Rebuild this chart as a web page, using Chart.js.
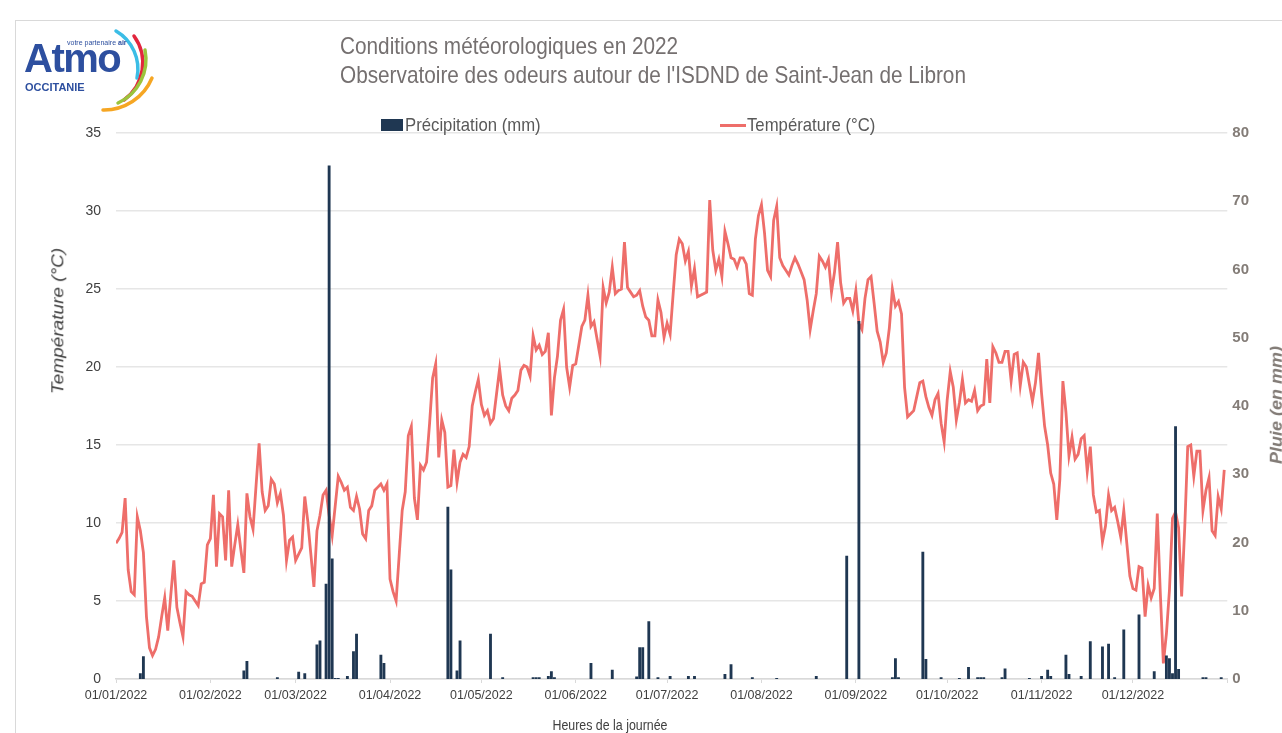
<!DOCTYPE html>
<html>
<head>
<meta charset="utf-8">
<script src="https://cdn.jsdelivr.net/npm/chart.js@4.4.1/dist/chart.umd.min.js"></script>
<style>
  html, body { margin: 0; padding: 0; background: #fff; overflow: hidden; }
  #wrap { position: relative; width: 1282px; height: 733px; overflow: hidden; font-family: 'Liberation Sans', Arial, sans-serif; }
  #frame { position: absolute; left: 15px; top: 20px; width: 1400px; height: 800px; border-left: 1px solid #d9d9d9; border-top: 1px solid #d9d9d9; }
  #c { position: absolute; left: 0; top: 0; }
  .title { position: absolute; left: 340px; color: #757070; font-size: 24px; white-space: nowrap; line-height: 29px; transform: scaleX(0.865); transform-origin: 0 0; }
  .leg { position: absolute; top: 115px; color: #595959; font-size: 19px; white-space: nowrap; line-height: 20px; transform: scaleX(0.88); transform-origin: 0 0; }
  .sw { position: absolute; }
  .axt { position: absolute; white-space: nowrap; }
  #logo .atmo { position: absolute; left: 24px; top: 38px; font-weight: bold; font-size: 40px; line-height: 40px; color: #2d4f9f; letter-spacing: -1.5px; }
  #logo .tag { position: absolute; left: 67px; top: 39px; font-size: 7px; line-height: 8px; color: #2d4f9f; }
  #logo .occ { position: absolute; left: 25px; top: 81px; font-weight: bold; font-size: 11px; line-height: 12px; color: #2d4f9f; }
</style>
</head>
<body>
<div id="wrap">
  <div id="frame"></div>
  <canvas id="c" width="1282" height="733"></canvas>

  <div id="logo">
    <svg width="200" height="130" style="position:absolute;left:0;top:0" fill="none" stroke-linecap="round">
      <path d="M116,31 A44,44 0 0 1 137,78" stroke="#3bbde6" stroke-width="3.5"/>
      <path d="M134,36 A46,46 0 0 1 124,100" stroke="#e2253d" stroke-width="3.5"/>
      <path d="M145,50 A48,48 0 0 1 118,103" stroke="#9cc43c" stroke-width="3.5"/>
      <path d="M152,78 A52,52 0 0 1 103,110" stroke="#f6a623" stroke-width="3.5"/>
    </svg>
    <div class="atmo">Atmo</div>
    <div class="tag">votre partenaire <b>air</b></div>
    <div class="occ">OCCITANIE</div>
  </div>

  <div class="title" style="top:31px">Conditions météorologiques en 2022</div>
  <div class="title" style="top:60px">Observatoire des odeurs autour de l'ISDND de Saint-Jean de Libron</div>

  <div class="sw" style="left:381px;top:119px;width:22px;height:12px;background:#1f3752"></div>
  <div class="leg" style="left:405px">Précipitation (mm)</div>
  <div class="sw" style="left:720px;top:124px;width:26px;height:3px;background:#ee6e6a"></div>
  <div class="leg" style="left:747px">Température (°C)</div>

  <div class="axt" style="left:58px;top:321px;transform:translate(-50%,-50%) rotate(-90deg) scaleY(0.88);font-style:italic;font-size:19px;color:#404040">Température (°C)</div>
  <div class="axt" style="left:1277px;top:405px;transform:translate(-50%,-50%) rotate(-90deg) scaleY(0.88);font-style:italic;font-weight:bold;font-size:18px;color:#837c77">Pluie (en mm)</div>
  <div class="axt" style="left:610px;top:717px;transform:translateX(-50%) scaleX(0.885);font-size:14px;color:#404040">Heures de la journée</div>
</div>

<script>
// daily mean temperature (°C), 01/01/2022 -> 31/12/2022
const temperature = [
  8.7, 9.0, 9.4, 11.6, 7.0, 5.6, 5.4, 10.4, 9.5, 8.1, 4.0, 2.0, 1.5, 1.9, 2.7, 4.0, 5.2, 3.1, 5.4, 7.6,
  4.6, 3.6, 2.7, 5.6, 5.4, 5.3, 5.0, 4.7, 6.1, 6.2, 8.6, 9.0, 11.8, 7.2, 10.6, 10.4, 7.6, 12.1, 7.2, 8.6,
  9.9, 8.3, 6.8, 11.9, 10.4, 9.6, 12.4, 15.1, 12.0, 10.8, 11.1, 12.8, 12.5, 11.3, 11.9, 10.5, 7.6, 8.9, 9.1, 7.6,
  8.0, 8.4, 11.7, 10.1, 8.0, 5.9, 9.5, 10.5, 11.8, 12.1, 10.5, 9.2, 11.1, 13.0, 12.6, 12.1, 12.3, 11.0, 10.8, 11.7,
  10.9, 9.3, 9.0, 10.8, 11.1, 12.1, 12.3, 12.5, 12.1, 12.5, 6.4, 5.6, 5.0, 7.9, 10.8, 12.0, 15.6, 16.2, 11.6, 10.2,
  13.7, 13.4, 13.9, 16.4, 19.3, 20.2, 14.2, 16.6, 15.8, 12.3, 12.4, 14.7, 12.6, 13.9, 14.4, 14.2, 14.9, 17.5, 18.4, 19.2,
  17.6, 16.9, 17.2, 16.4, 16.7, 18.3, 19.9, 18.2, 17.5, 17.2, 18.0, 18.2, 18.5, 19.8, 20.1, 20.0, 19.4, 22.0, 21.1, 21.4,
  20.8, 21.0, 22.2, 16.9, 19.3, 20.7, 23.0, 23.7, 20.0, 18.7, 20.1, 20.2, 21.4, 22.6, 23.0, 24.6, 22.6, 22.9, 21.8, 20.7,
  25.1, 24.1, 24.8, 26.4, 24.7, 24.9, 25.0, 28.0, 25.1, 24.8, 24.5, 24.6, 24.9, 23.9, 23.2, 23.0, 22.0, 22.0, 24.3, 23.5,
  21.9, 22.8, 22.1, 24.7, 27.2, 28.2, 27.9, 26.8, 27.4, 25.2, 26.3, 24.5, 24.6, 24.7, 24.8, 30.7, 27.5, 26.2, 26.9, 25.8,
  28.7, 27.9, 27.0, 26.9, 26.4, 27.0, 27.0, 26.6, 24.7, 24.6, 28.2, 29.7, 30.4, 28.6, 26.2, 25.8, 29.4, 30.3, 27.0, 26.5,
  26.2, 25.9, 26.5, 27.0, 26.6, 26.1, 25.6, 24.3, 22.4, 23.6, 24.7, 27.1, 26.8, 26.4, 26.9, 24.8, 26.1, 28.0, 25.4, 24.1,
  24.4, 24.4, 23.6, 24.9, 22.8, 22.4, 24.4, 25.6, 25.8, 24.1, 22.3, 21.6, 20.3, 20.9, 22.5, 25.0, 23.9, 24.2, 23.4, 18.7,
  16.8, 17.0, 17.2, 18.1, 19.0, 19.1, 18.1, 17.4, 16.9, 17.9, 18.3, 16.4, 15.2, 17.9, 19.7, 18.7, 16.6, 17.7, 19.2, 17.7,
  17.9, 17.8, 18.5, 17.2, 17.5, 17.6, 20.5, 17.7, 21.3, 20.9, 20.3, 20.3, 21.0, 21.0, 19.1, 20.8, 20.9, 18.8, 20.3, 20.0,
  18.9, 17.8, 19.0, 20.9, 18.3, 16.2, 15.0, 13.2, 12.5, 10.2, 12.8, 19.1, 17.1, 14.3, 15.5, 14.1, 14.4, 15.4, 15.6, 13.3,
  14.9, 11.8, 10.7, 10.8, 8.8, 9.8, 11.8, 10.8, 11.0, 10.1, 9.1, 10.8, 8.7, 6.6, 5.8, 5.7, 7.2, 7.1, 4.0, 6.0,
  5.2, 5.8, 10.6, 5.5, 1.0, 2.9, 5.7, 10.3, 10.7, 9.7, 5.3, 9.6, 14.9, 15.0, 13.0, 14.6, 14.6, 10.8, 12.1, 12.9,
  9.5, 9.2, 11.7, 10.9, 13.4
];

// rainy days (day index from 01/01) and rainfall (mm)
const rainDays = [8, 9, 42, 43, 53, 60, 62, 66, 67, 69, 70, 71, 72, 73, 76, 78, 79, 87, 88, 109, 110, 112, 113,
  123, 127, 137, 138, 139, 142, 143, 144, 156, 163, 171, 172, 173, 175, 178, 182, 188, 190, 200, 202, 209, 217, 230,
  240, 244, 255, 256, 257, 265, 266, 271, 277, 280, 283, 284, 285, 291, 292, 300, 304, 306, 307, 312, 313, 317,
  320, 324, 326, 328, 331, 336, 341, 345, 346, 347, 348, 349, 357, 358, 363];
const rainMm = [0.8, 3.3, 1.2, 2.6, 0.2, 1.0, 0.8, 5.0, 5.6, 13.9, 75.2, 17.6, 0.1, 0.1, 0.4, 4.0, 6.6, 3.5, 2.3, 25.2, 16.0, 1.2, 5.6,
  6.6, 0.2, 0.2, 0.2, 0.2, 0.4, 1.1, 0.2, 2.3, 1.3, 0.3, 4.6, 4.6, 8.4, 0.2, 0.4, 0.4, 0.4, 0.7, 2.1, 0.2, 0.1, 0.4,
  18.0, 52.4, 0.2, 3.0, 0.2, 18.6, 2.9, 0.2, 0.1, 1.7, 0.2, 0.2, 0.2, 0.2, 1.5, 0.1, 0.4, 1.3, 0.4, 3.5, 0.7, 0.4,
  5.5, 4.7, 5.1, 0.2, 7.2, 9.4, 1.1, 3.4, 3.0, 0.8, 37.0, 1.4, 0.2, 0.2, 0.2];

// x axis ticks: first day of each month (and end of year)
const tickDays = [0, 31, 59, 90, 120, 151, 181, 212, 243, 273, 304, 334, 365];
const tickLabels = ['01/01/2022', '01/02/2022', '01/03/2022', '01/04/2022', '01/05/2022', '01/06/2022',
  '01/07/2022', '01/08/2022', '01/09/2022', '01/10/2022', '01/11/2022', '01/12/2022', ''];

Chart.defaults.font.family = "'Liberation Sans', Arial, sans-serif";

new Chart(document.getElementById('c'), {
  data: {
    datasets: [
      {
        type: 'bar',
        label: 'Précipitation (mm)',
        data: rainDays.map((d, i) => ({ x: d, y: rainMm[i] })),
        yAxisID: 'yRain',
        backgroundColor: '#1f3752',
        barThickness: 2.2
      },
      {
        type: 'line',
        label: 'Température (°C)',
        data: temperature.map((t, i) => ({ x: i, y: t })),
        yAxisID: 'yTemp',
        borderColor: '#ee6e6a',
        borderWidth: 2.8,
        pointRadius: 0,
        tension: 0
      }
    ]
  },
  options: {
    responsive: false,
    animation: false,
    layout: { padding: { top: 133, left: 0, right: 0, bottom: 0 } },
    plugins: { legend: { display: false }, tooltip: { enabled: false } },
    scales: {
      x: {
        type: 'linear',
        min: 0,
        max: 365,
        offset: false,
        afterBuildTicks: (axis) => { axis.ticks = tickDays.map(v => ({ value: v })); },
        afterFit: (s) => { s.height = 54; },
        ticks: {
          autoSkip: false,
          maxRotation: 0,
          padding: 5,
          color: '#404040',
          font: { size: 12.5 },
          callback: (v, i) => tickLabels[i]
        },
        grid: { offset: false, drawOnChartArea: false, drawTicks: true, tickLength: 4, color: '#d9d9d9' },
        border: { display: true, color: '#d9d9d9', width: 1.5 }
      },
      yTemp: {
        position: 'left',
        min: 0,
        max: 35,
        afterFit: (s) => { s.width = 116; },
        ticks: { stepSize: 5, padding: 15, color: '#404040', font: { size: 14 } },
        grid: { color: '#e6e6e6', lineWidth: 1.5, drawTicks: false },
        border: { display: false }
      },
      yRain: {
        position: 'right',
        min: 0,
        max: 80,
        afterFit: (s) => { s.width = 54.7; },
        ticks: { stepSize: 10, padding: 5, color: '#837c77', font: { size: 15, weight: 'bold' } },
        grid: { display: false, drawTicks: false },
        border: { display: false }
      }
    }
  }
});
</script>
</body>
</html>
